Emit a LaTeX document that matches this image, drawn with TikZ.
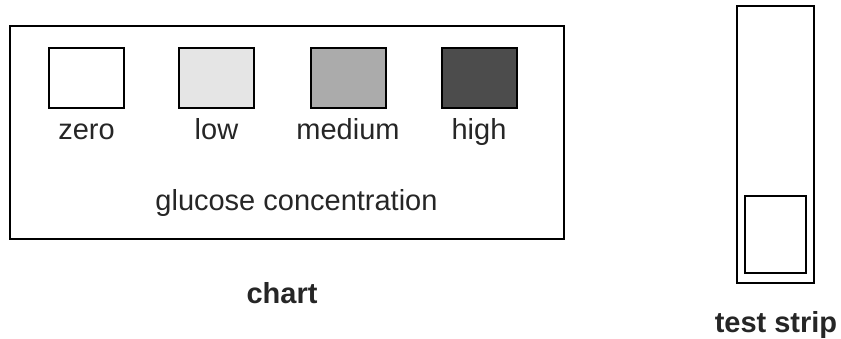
\documentclass[tikz,border=0pt]{standalone}
\usepackage{fontspec}
\setmainfont{Liberation Sans}
\begin{document}
\begin{tikzpicture}[x=1pt,y=-1pt,
  frame/.style={draw=black,line width=2pt},
  swatch/.style={draw=black,line width=2pt,minimum width=75pt,minimum height=60pt,inner sep=0pt},
  lbl/.style={font=\fontsize{29}{32}\selectfont,anchor=base,inner sep=0pt,text=black!85},
  blbl/.style={font=\fontsize{29}{32}\selectfont\bfseries,anchor=base,inner sep=0pt,text=black!85}]
\useasboundingbox (0,0) rectangle (841,338);
\draw[frame] (10,26) rectangle (564,239);
\node[swatch,fill=white] (zero) at (86.5,78) {};
\node[swatch,fill=black!10] (low) at (216.5,78) {};
\node[swatch,fill=black!33] (medium) at (348,78) {};
\node[swatch,fill=black!70] (high) at (479,78) {};
\node[lbl] (tzero) at (86.5,139) {zero};
\node[lbl] (tlow) at (216.5,139) {low};
\node[lbl] (tmed) at (348,139) {medium};
\node[lbl] (thigh) at (479,139) {high};
\node[lbl] (gc) at (296.5,210) {glucose concentration};
\node[blbl] (chart) at (282,303) {chart};
\draw[frame] (737,6) rectangle (814,283);
\draw[frame] (745,196) rectangle (806,273);
\node[blbl] (strip) at (776,332) {test strip};
\end{tikzpicture}
\end{document}
